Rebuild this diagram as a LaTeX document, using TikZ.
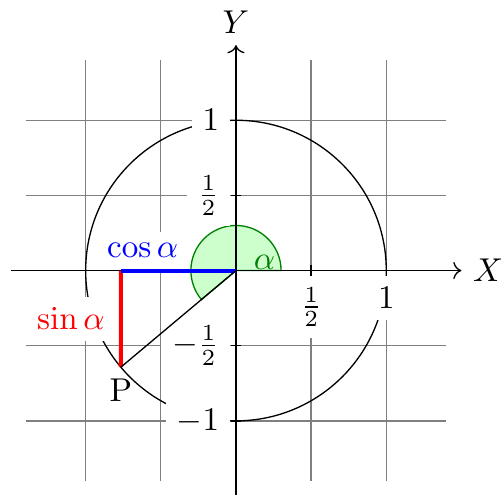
\documentclass[tikz,border=0pt]{standalone}
\usepackage{amsmath,amssymb}
\usepackage{tikz}
\usetikzlibrary{positioning,arrows.meta,calc}

\begin{document}
\begin{tikzpicture}[scale=1.6]
		\useasboundingbox (-1.57,-1.49) rectangle (1.77,1.80);
		
		\draw[gray,thin] (-1.4,-1.4) grid[step=0.5] (1.4,1.4);
		
		\draw (0,0) circle (1);
		
		\coordinate (O) at (0,0);
		\coordinate (P) at (220:1);
		\coordinate (Q) at (P |- O);
		
		\filldraw[fill=green!20,draw=green!50!black] (O) -- (0.3,0) arc (0:220:0.3) -- cycle;
		
		\draw[->] (-1.5,0) -- (1.5,0) node[right] (xlabel) {\(X\)};
		\draw[->] (0,-1.5) -- (0,1.5) node[above] (ylabel) {\(Y\)};
		
		\foreach \x/\xtext in {0.5/\frac{1}{2}, 1/1}
			\draw (\x,1pt) -- (\x,-1pt) node[anchor=north,fill=white] (xtick\x) {\(\xtext\)};
		\foreach \y/\ytext in {-1/-1, -0.5/-\frac{1}{2}, 0.5/\frac{1}{2}, 1/1}
			\draw (1pt,\y) -- (-1pt,\y) node[anchor=east,fill=white] (ytick\y) {\(\ytext\)};
		
		\draw[red,very thick] (Q) -- node[left=1pt,fill=white] (sinlabel) {\(\sin\alpha\)} (P);
		\draw[blue,very thick] (Q) -- node[pos=0.19,above=0pt,fill=white] (coslabel) {\(\cos\alpha\)} (O);
		\draw (O) -- (P);
		
		\node[below] (plabel) at (P) {P};
		\node[green!50!black] (alpha) at (0.19,0.055) {\(\alpha\)};
		
	\end{tikzpicture}
\end{document}
